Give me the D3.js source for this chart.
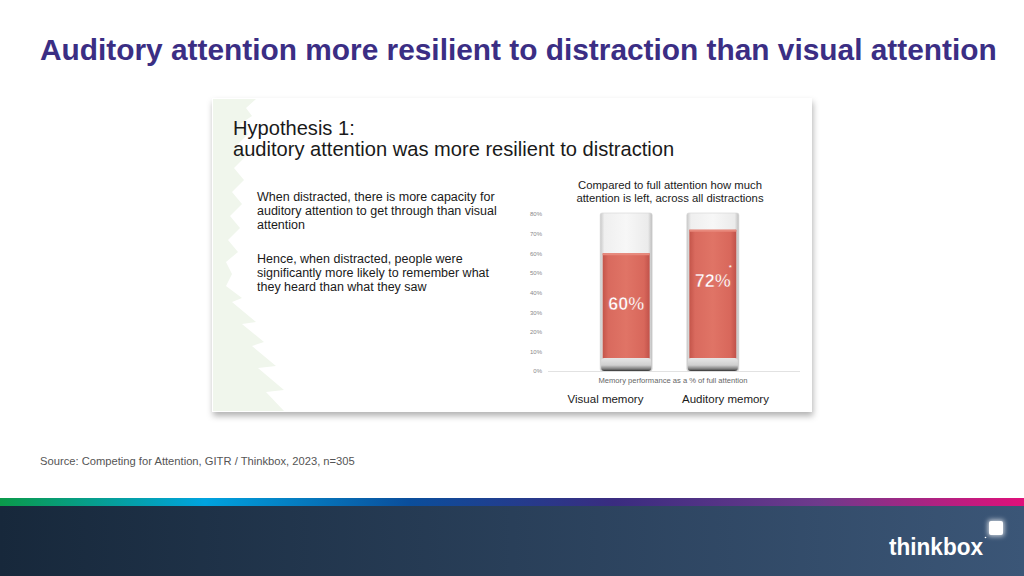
<!DOCTYPE html>
<html lang="en">
  <head>
    <meta charset="utf-8">
    <title>Auditory attention</title>
    <script src="https://cdn.jsdelivr.net/npm/d3@7"></script>
    <style>
      body { margin: 0; background: #fff; }
      text { font-family: "Liberation Sans", Arial, Helvetica, sans-serif; }
    </style>
  </head>
  <body>
    <script>
      // data
      var categories = ["Visual memory", "Auditory memory"];
      var values = [60, 72];
      var valueLabels = ["60%", "72%"];
      var significant = [false, true];
      var yTicks = [0, 10, 20, 30, 40, 50, 60, 70, 80];
      var bandStops = ["#0b9a4a", "#00a3df", "#0a4e9c", "#3a2c80", "#6f3a8c", "#e0107a"];

      const W = 1024, H = 576;
      var svg = d3.select("body").append("svg")
        .attr("width", W)
        .attr("height", H);
      var defs = svg.append("defs");

      // main slide title
      svg.append("text")
        .attr("x", 40).attr("y", 60)
        .attr("font-size", 29.85).attr("font-weight", "bold")
        .attr("fill", "#3b2e84")
        .text("Auditory attention more resilient to distraction than visual attention");

      // card with shadow
      var shadow = defs.append("filter").attr("id", "shadow")
        .attr("x", "-5%").attr("y", "-5%").attr("width", "110%").attr("height", "115%");
      shadow.append("feDropShadow")
        .attr("dx", 1).attr("dy", 4).attr("stdDeviation", 3)
        .attr("flood-color", "#000").attr("flood-opacity", 0.3);

      var card = svg.append("g");
      card.append("rect")
        .attr("x", 212).attr("y", 98).attr("width", 600).attr("height", 314)
        .attr("fill", "#fff").attr("filter", "url(#shadow)");

      // faint tree silhouette at the left of the card
      card.append("path")
        .attr("fill", "#f0f6ec")
        .attr("d", "M213,99 L256,99 L246,108 L252,116 L240,124 L248,134 L236,146 L246,156 L234,168 " +
          "L244,180 L232,192 L242,204 L230,216 L240,228 L228,240 L238,252 L226,262 L232,274 L226,286 " +
          "L242,298 L232,302 L256,322 L242,324 L264,342 L252,346 L276,366 L258,368 L284,390 L266,392 " +
          "L284,411 L213,411 Z");

      // card heading
      var head = card.append("text")
        .attr("font-size", 20.1).attr("fill", "#1a1a1a");
      head.append("tspan").attr("x", 233).attr("y", 135).text("Hypothesis 1:");
      head.append("tspan").attr("x", 233).attr("y", 156).text("auditory attention was more resilient to distraction");

      var para1 = ["When distracted, there is more capacity for",
                   "auditory attention to get through than visual",
                   "attention"];
      var para2 = ["Hence, when distracted, people were",
                   "significantly more likely to remember what",
                   "they heard than what they saw"];
      function para(lines, y0) {
        card.append("text").attr("font-size", 12.5).attr("fill", "#1a1a1a")
          .selectAll("tspan").data(lines).join("tspan")
          .attr("x", 257).attr("y", function(d, i) { return y0 + i * 14; })
          .text(function(d) { return d; });
      }
      para(para1, 201);
      para(para2, 263);

      // chart
      var y = d3.scaleLinear().domain([0, 80]).range([371, 214]);
      var x = d3.scaleBand().domain(categories).range([543, 796])
        .paddingInner(0.4).paddingOuter(0.66);
      var xl = d3.scalePoint().domain(categories).range([605.5, 725.5]);

      card.append("text")
        .attr("text-anchor", "middle")
        .attr("font-size", 11.3).attr("fill", "#1a1a1a")
        .selectAll("tspan").data(["Compared to full attention how much", "attention is left, across all distractions"])
        .join("tspan")
        .attr("x", 670).attr("y", function(d, i) { return 189 + i * 12.5; })
        .text(function(d) { return d; });

      var axis = card.append("g")
        .attr("transform", "translate(542,0)")
        .call(d3.axisLeft(y).tickValues(yTicks).tickSize(0).tickPadding(0)
          .tickFormat(function(d) { return d + "%"; }));
      axis.select(".domain").remove();
      axis.selectAll("text").attr("font-size", 6).attr("fill", "#888")
        .attr("font-family", "Liberation Sans, Arial, sans-serif");

      card.append("line")
        .attr("x1", 548).attr("x2", 800)
        .attr("y1", y(0) + 0.5).attr("y2", y(0) + 0.5)
        .attr("stroke", "#e2e2e2");

      // gradients for glass and liquid
      var glassGrad = defs.append("linearGradient").attr("id", "glass");
      [["0%", "#c8c8c8"], ["8%", "#efefef"], ["50%", "#f7f7f7"], ["92%", "#ebebeb"], ["100%", "#bdbdbd"]]
        .forEach(function(s) { glassGrad.append("stop").attr("offset", s[0]).attr("stop-color", s[1]); });
      var juiceGrad = defs.append("linearGradient").attr("id", "juice");
      [["0%", "#c4554a"], ["12%", "#d96a5e"], ["50%", "#e07466"], ["88%", "#d8675b"], ["100%", "#c0524a"]]
        .forEach(function(s) { juiceGrad.append("stop").attr("offset", s[0]).attr("stop-color", s[1]); });
      var baseGrad = defs.append("linearGradient").attr("id", "base")
        .attr("x1", 0).attr("y1", 0).attr("x2", 0).attr("y2", 1);
      [["0%", "#e6e6e6"], ["55%", "#cfcfcf"], ["85%", "#7a7a7a"], ["100%", "#333"]]
        .forEach(function(s) { baseGrad.append("stop").attr("offset", s[0]).attr("stop-color", s[1]); });

      var glass = card.selectAll(".glass").data(categories).join("g").attr("class", "glass");
      glass.append("rect")
        .attr("x", function(d) { return x(d); })
        .attr("y", y(80) - 1)
        .attr("width", x.bandwidth())
        .attr("height", y(0) - y(80) + 1)
        .attr("rx", 2)
        .attr("fill", "url(#glass)")
        .attr("stroke", "#d4d4d4").attr("stroke-width", 0.6);
      glass.append("rect")
        .attr("x", function(d) { return x(d) + 2.5; })
        .attr("y", function(d, i) { return y(values[i]); })
        .attr("width", x.bandwidth() - 5)
        .attr("height", function(d, i) { return y(0) - y(values[i]) - 10; })
        .attr("fill", "url(#juice)");
      glass.append("rect")
        .attr("x", function(d) { return x(d) + 2.5; })
        .attr("y", function(d, i) { return y(values[i]); })
        .attr("width", x.bandwidth() - 5)
        .attr("height", 2)
        .attr("fill", "#e8897c");
      glass.append("rect")
        .attr("x", function(d) { return x(d) + 1; })
        .attr("y", y(0) - 13)
        .attr("width", x.bandwidth() - 2)
        .attr("height", 13)
        .attr("rx", 3)
        .attr("fill", "url(#base)");

      glass.append("text")
        .attr("x", function(d) { return x(d) + x.bandwidth() / 2; })
        .attr("y", function(d, i) { return y(values[i]) + 57; })
        .attr("text-anchor", "middle")
        .attr("font-size", 18).attr("font-weight", "bold").attr("fill", "#fff")
        .attr("stroke", "#d9685c").attr("stroke-width", 0.5)
        .text(function(d, i) { return valueLabels[i]; });
      glass.filter(function(d, i) { return significant[i]; })
        .append("text")
        .attr("x", function(d) { return x(d) + x.bandwidth() / 2 + 16; })
        .attr("y", function(d) { return y(values[categories.indexOf(d)]) + 40; })
        .attr("font-size", 8).attr("fill", "#fff")
        .text("*");

      card.append("text")
        .attr("x", 673).attr("y", 382.5).attr("text-anchor", "middle")
        .attr("font-size", 7.6).attr("fill", "#666")
        .text("Memory performance as a % of full attention");

      card.selectAll(".cat").data(categories).join("text").attr("class", "cat")
        .attr("x", function(d) { return xl(d); })
        .attr("y", 403)
        .attr("text-anchor", "middle")
        .attr("font-size", 11.5).attr("fill", "#1a1a1a")
        .text(function(d) { return d; });

      // source note
      svg.append("text")
        .attr("x", 40).attr("y", 465)
        .attr("font-size", 11.2).attr("fill", "#555")
        .text("Source: Competing for Attention, GITR / Thinkbox, 2023, n=305");

      // footer band and panel
      var band = defs.append("linearGradient").attr("id", "band");
      var bandScale = d3.scaleLinear().domain([0, bandStops.length - 1]).range([0, 100]);
      band.selectAll("stop").data(bandStops).join("stop")
        .attr("offset", function(d, i) { return bandScale(i) + "%"; })
        .attr("stop-color", function(d) { return d; });
      svg.append("rect").attr("x", 0).attr("y", 498).attr("width", W).attr("height", 8)
        .attr("fill", "url(#band)");

      var panel = defs.append("linearGradient").attr("id", "panel");
      panel.append("stop").attr("offset", "0%").attr("stop-color", "#17283b");
      panel.append("stop").attr("offset", "100%").attr("stop-color", "#3b5677");
      svg.append("rect").attr("x", 0).attr("y", 506).attr("width", W).attr("height", H - 506)
        .attr("fill", "url(#panel)");

      // thinkbox logo
      var glow = defs.append("filter").attr("id", "glow")
        .attr("x", "-60%").attr("y", "-60%").attr("width", "220%").attr("height", "220%");
      glow.append("feGaussianBlur").attr("stdDeviation", 2.5);
      svg.append("rect").attr("x", 988).attr("y", 520).attr("width", 16).attr("height", 16).attr("rx", 2)
        .attr("fill", "#fff").attr("filter", "url(#glow)").attr("opacity", 0.8);
      svg.append("rect").attr("x", 989).attr("y", 521).attr("width", 14).attr("height", 14).attr("rx", 2)
        .attr("fill", "#fff");
      svg.append("circle").attr("cx", 985.5).attr("cy", 537.5).attr("r", 0.8).attr("fill", "#fff");
      svg.append("text")
        .attr("x", 889).attr("y", 555)
        .attr("font-size", 24.5).attr("fill", "#fff").attr("font-weight", "bold")
        .attr("textLength", 94).attr("lengthAdjust", "spacingAndGlyphs")
        .text("thinkbox");
    </script>
  </body>
</html>
